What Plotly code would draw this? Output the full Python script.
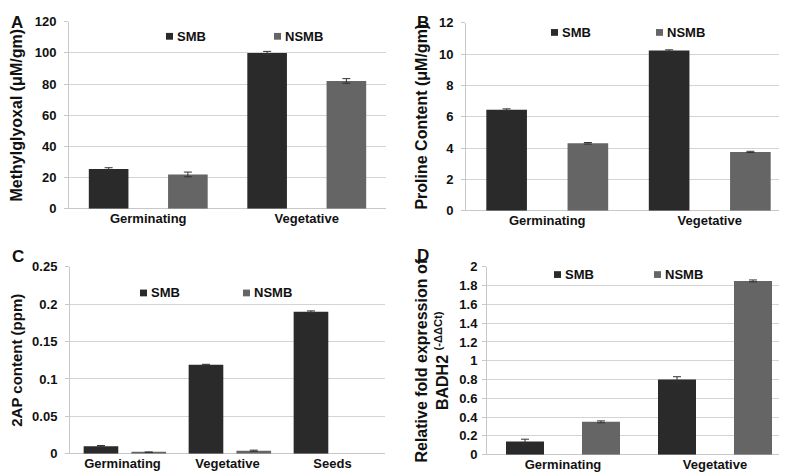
import plotly.graph_objects as go

# ---------------- data ----------------
cats_ab = ["Germinating", "Vegetative"]
cats_c = ["Germinating", "Vegetative", "Seeds"]
series_names = ["SMB", "NSMB"]

mg_smb = [25.5, 100.0]
mg_smb_err = [0.8, 1.0]
mg_nsmb = [22.0, 82.0]
mg_nsmb_err = [1.5, 1.5]

pro_smb = [6.45, 10.22]
pro_smb_err = [0.05, 0.05]
pro_nsmb = [4.3, 3.75]
pro_nsmb_err = [0.05, 0.04]

ap_smb = [0.010, 0.119, 0.190]
ap_smb_err = [0.001, 0.0006, 0.001]
ap_nsmb = [0.002, 0.004, None]
ap_nsmb_err = [0.0004, 0.0008, 0]

badh_smb = [0.14, 0.80]
badh_smb_err = [0.025, 0.03]
badh_nsmb = [0.35, 1.85]
badh_nsmb_err = [0.01, 0.01]

# ---------------- style ----------------
W, H = 787, 476
C_SMB = "#2a2a2a"
C_NSMB = "#656565"
COLORS = [C_SMB, C_NSMB]
GRID = "#d4d4d4"
FONT = "Liberation Sans, Arial, sans-serif"


def px_dom(a, b, total):
    return [a / total, b / total]


def py_dom(top, bottom):
    return [1 - bottom / H, 1 - top / H]


fig = go.Figure()

panels = [
    ("x", "y", cats_ab, mg_smb, mg_smb_err, mg_nsmb, mg_nsmb_err, 0.25, -0.375, 0.125),
    ("x2", "y2", cats_ab, pro_smb, pro_smb_err, pro_nsmb, pro_nsmb_err, 0.25, -0.375, 0.125),
    ("x3", "y3", cats_c, ap_smb, ap_smb_err, ap_nsmb, ap_nsmb_err, 0.33, -0.37, 0.085),
    ("x4", "y4", cats_ab, badh_smb, badh_smb_err, badh_nsmb, badh_nsmb_err, 0.25, -0.375, 0.125),
]

for xa, ya, cats, s, se, n, ne, w, o1, o2 in panels:
    fig.add_trace(go.Bar(
        x=cats, y=s, name=series_names[0], marker=dict(color=C_SMB, line=dict(width=0)),
        width=w, offset=o1, xaxis=xa, yaxis=ya, showlegend=False,
        error_y=dict(type="data", array=se, color="#333333", thickness=1, width=4),
    ))
    fig.add_trace(go.Bar(
        x=cats, y=n, name=series_names[1], marker=dict(color=C_NSMB, line=dict(width=0)),
        width=w, offset=o2, xaxis=xa, yaxis=ya, showlegend=False,
        error_y=dict(type="data", array=ne, color="#333333", thickness=1, width=4),
    ))

tickfont = dict(family=FONT, size=13, color="#111111", weight="bold")


def xaxis(dom, anchor):
    return dict(domain=dom, anchor=anchor, type="category", showgrid=False,
                showline=False, ticks="", tickfont=tickfont, zeroline=False,
                fixedrange=True)


def yaxis(dom, anchor, rng, dt, title, standoff, tsize=16, lstand=5):
    return dict(domain=dom, anchor=anchor, range=rng, dtick=dt, tick0=0,
                showgrid=True, gridcolor=GRID, gridwidth=1,
                showline=True, linecolor="#c8c8c8", linewidth=1,
                ticks="outside", ticklen=4, tickcolor="#c8c8c8",
                ticklabelstandoff=lstand,
                tickfont=tickfont, zeroline=True, zerolinecolor="#c8c8c8",
                zerolinewidth=1,
                title=dict(text=title, font=dict(family=FONT, size=tsize, color="#111111", weight="bold"),
                           standoff=standoff))


domA_x, domA_y = px_dom(61, 378, W), py_dom(7, 200)
domB_x, domB_y = px_dom(458, 783, W), py_dom(8, 202)
domC_x, domC_y = px_dom(62, 377, W), py_dom(260, 453)
domD_x, domD_y = px_dom(479, 783, W), py_dom(260, 454)

fig.update_layout(
    width=W, height=H,
    margin=dict(l=0, r=0, t=0, b=0),
    paper_bgcolor="white", plot_bgcolor="white",
    barmode="group",
    showlegend=False,
    font=dict(family=FONT, color="#111111"),
    xaxis=xaxis(domA_x, "y"),
    yaxis=yaxis(domA_y, "x", [0, 120], 20, "Methylglyoxal (μM/gm)", 9),
    xaxis2=xaxis(domB_x, "y2"),
    yaxis2=yaxis(domB_y, "x2", [0, 12], 2, "Proline Content (μM/gm)", 7),
    xaxis3=xaxis(domC_x, "y3"),
    yaxis3=yaxis(domC_y, "x3", [0, 0.25], 0.05, "2AP content (ppm)", 8, 15),
    xaxis4=xaxis(domD_x, "y4"),
    yaxis4=yaxis(domD_y, "x4", [0, 2], 0.2,
                 "Relative fold expression of<br>BADH2 <sup>(-ΔΔCt)</sup>", 6, 16, 2),
)

# in-plot legends (square key + label) for each panel: (text-left px list, y px)
legend_pos = [([167, 275], 22), ([552, 657], 18), ([141, 244], 287), ([555, 655], 268)]
for xs, yp in legend_pos:
    for name, col, xl in zip(series_names, COLORS, xs):
        fig.add_shape(type="rect", xref="paper", yref="paper",
                      x0=(xl - 9) / W, x1=(xl - 2) / W,
                      y0=1 - (yp + 3.5) / H, y1=1 - (yp - 3.5) / H,
                      fillcolor=col, line=dict(width=0))
        fig.add_annotation(text=name, x=xl / W, y=1 - yp / H, xref="paper", yref="paper",
                           showarrow=False, xanchor="left", yanchor="middle",
                           font=dict(family=FONT, size=13, color="#111111", weight="bold"))

letters = [("A", 9, 8), ("B", 415, 8), ("C", 10, 249), ("D", 415, 248)]
for t, xp, yp in letters:
    fig.add_annotation(text=t, x=xp / W, y=1 - yp / H, xref="paper", yref="paper",
                       showarrow=False, xanchor="center", yanchor="middle",
                       font=dict(family=FONT, size=17, color="#111111", weight="bold"))

fig.write_html("out.html")
